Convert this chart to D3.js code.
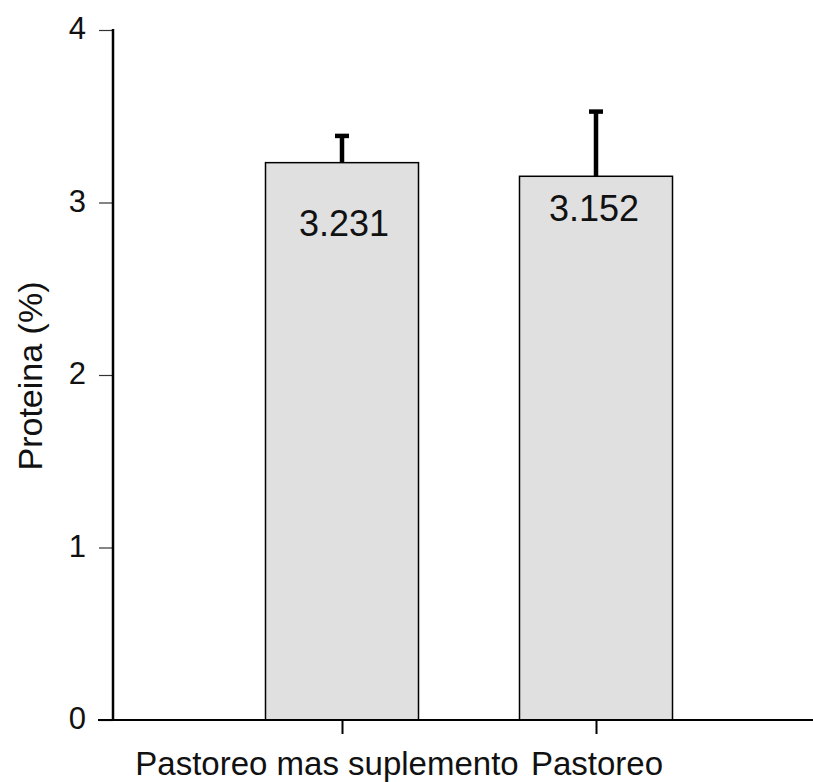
<!DOCTYPE html>
<html><head><meta charset="utf-8">
<script src="https://cdn.jsdelivr.net/npm/d3@7"></script>
<style>body{margin:0;background:#fff}svg{display:block}text{font-family:Arial,"Liberation Sans",sans-serif;fill:#111}</style>
</head><body><svg id="c" width="813" height="782"></svg>
<script>
const categories = ["Pastoreo mas suplemento", "Pastoreo"];
const values = [3.231, 3.152];
const errors = [0.155, 0.375];
const valueLabels = ["3.231", "3.152"];
const yTicks = [0, 1, 2, 3, 4];

const svg = d3.select("#c");
const y = d3.scaleLinear().domain([0, 4]).range([720, 30]);
const xc = d3.scalePoint().domain(categories).range([342, 596]);
const bw = 153;

// bars
svg.selectAll("rect.bar").data(categories).join("rect")
  .attr("x", d => xc(d) - bw / 2).attr("width", bw)
  .attr("y", (d, i) => y(values[i])).attr("height", (d, i) => y(0) - y(values[i]))
  .attr("fill", "#e0e0e0").attr("stroke", "#000").attr("stroke-width", 1.5);

// error bars
svg.selectAll("line.err").data(categories).join("line")
  .attr("x1", d => xc(d)).attr("x2", d => xc(d))
  .attr("y1", (d, i) => y(values[i])).attr("y2", (d, i) => y(values[i] + errors[i]))
  .attr("stroke", "#000").attr("stroke-width", 4.5);
svg.selectAll("line.cap").data(categories).join("line")
  .attr("x1", d => xc(d) - 7).attr("x2", d => xc(d) + 7)
  .attr("y1", (d, i) => y(values[i] + errors[i])).attr("y2", (d, i) => y(values[i] + errors[i]))
  .attr("stroke", "#000").attr("stroke-width", 4.5);

// value labels
const labelOffsets = [73, 45];
svg.selectAll("text.val").data(categories).join("text")
  .attr("x", (d, i) => xc(d) + (i === 0 ? 2 : -2)).attr("y", (d, i) => y(values[i]) + labelOffsets[i])
  .attr("text-anchor", "middle").attr("font-size", 36).text((d, i) => valueLabels[i]);

// y axis
const yAxis = d3.axisLeft(y).tickValues(yTicks).tickSize(14).tickPadding(13).tickFormat(d3.format("d"));
const ga = svg.append("g").attr("transform", "translate(113,0)").call(yAxis);
ga.select(".domain").remove();
ga.selectAll(".tick line").attr("stroke", "#333").attr("stroke-width", 1.2);
ga.selectAll(".tick text").attr("font-size", 31).attr("dy", "0.28em").attr("font-family", "Arial, 'Liberation Sans', sans-serif").attr("fill", "#111");
svg.append("line").attr("x1", 113).attr("x2", 113).attr("y1", y(4) - 1).attr("y2", y(0) + 1).attr("stroke", "#000").attr("stroke-width", 2.5);

// x axis
svg.append("line").attr("x1", 98).attr("x2", 813).attr("y1", 720).attr("y2", 720).attr("stroke", "#000").attr("stroke-width", 2);
const xAxis = d3.axisBottom(xc).tickSize(14).tickFormat("");
const gx = svg.append("g").attr("transform", "translate(0,720)").call(xAxis);
gx.select(".domain").remove();
gx.selectAll(".tick line").attr("stroke", "#000").attr("stroke-width", 2);

// category labels
const catCenters = [327, 597];
svg.selectAll("text.cat").data(categories).join("text")
  .attr("x", (d, i) => catCenters[i]).attr("y", 775)
  .attr("text-anchor", "middle").attr("font-size", 33).text(d => d);

// y title
svg.append("text").attr("transform", "translate(42,376) rotate(-90)")
  .attr("text-anchor", "middle").attr("font-size", 34).text("Proteina (%)");
</script></body></html>
